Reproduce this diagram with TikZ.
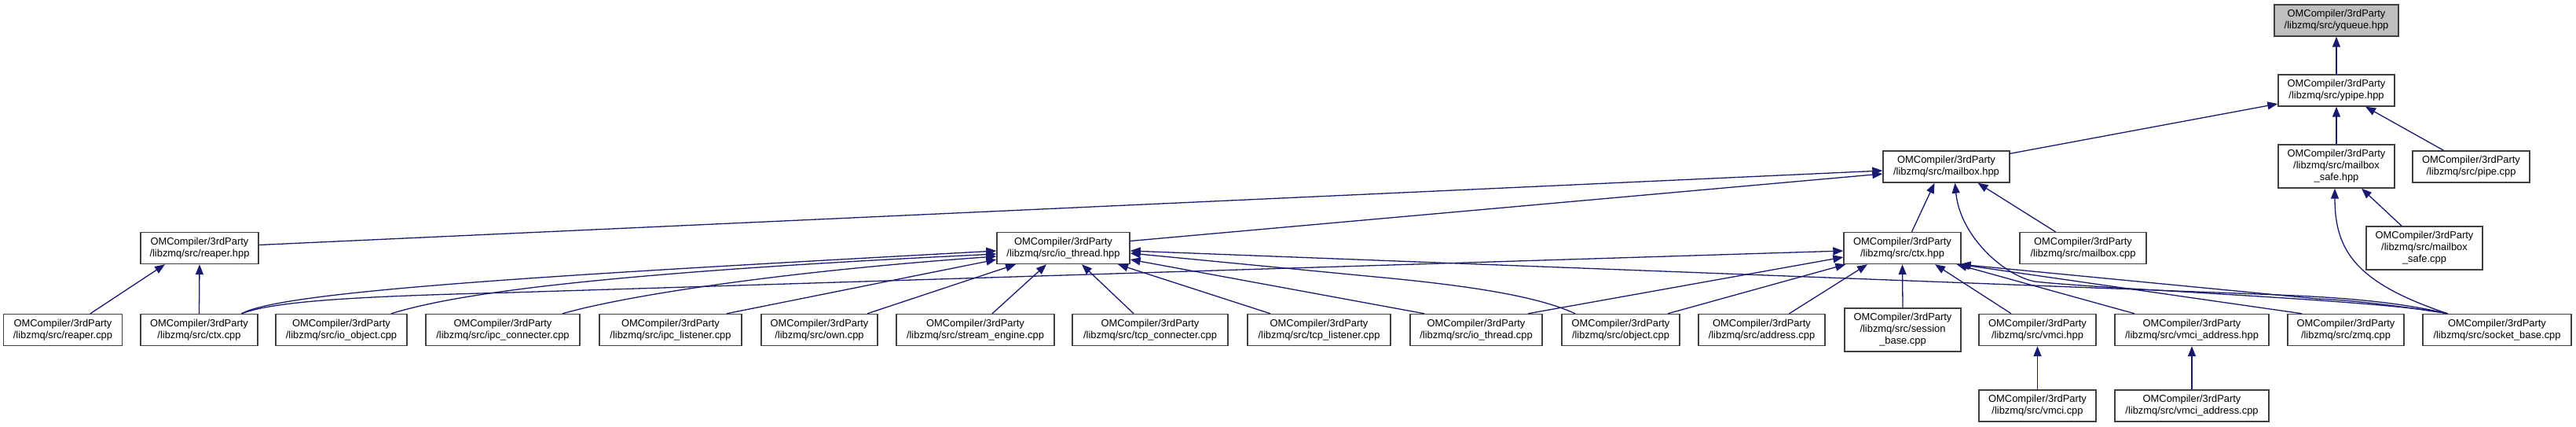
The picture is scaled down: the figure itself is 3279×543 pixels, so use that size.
\documentclass[tikz,border=0pt]{standalone}
\usepackage{fontspec}
\setmainfont{Liberation Sans}
\usetikzlibrary{arrows.meta}
\definecolor{edgeblue}{HTML}{191970}
\definecolor{boxgray}{HTML}{404040}
\definecolor{rootgray}{HTML}{BFBFBF}
\newcommand{\nodefont}{\fontsize{12.9pt}{15pt}\selectfont}
\tikzset{
  box/.style={draw=boxgray, line width=1.4pt, fill=white, inner sep=0pt, align=center, font=\nodefont, minimum height=40pt},
  boxthree/.style={box, minimum height=55pt},
  inc/.style={draw=edgeblue, line width=1.3pt, -{Triangle[length=13pt,width=10pt]}},
}
\begin{document}
\begin{tikzpicture}[x=1pt,y=-1pt]
\useasboundingbox (0,0) rectangle (3279,543);
% rank 0
\node[box, fill=rootgray, minimum width=158pt] (yqueue) at (2974,26) {OMCompiler/3rdParty\\/libzmq/src/yqueue.hpp};
% rank 1
\node[box, minimum width=148pt] (ypipe) at (2974,115) {OMCompiler/3rdParty\\/libzmq/src/ypipe.hpp};
% rank 2
\node[box, minimum width=161pt] (mailboxhpp) at (2477.5,212) {OMCompiler/3rdParty\\/libzmq/src/mailbox.hpp};
\node[boxthree, minimum width=148pt] (mailboxsafehpp) at (2974,211.5) {OMCompiler/3rdParty\\/libzmq/src/mailbox\\\_safe.hpp};
\node[box, minimum width=149pt] (pipecpp) at (3145.5,212) {OMCompiler/3rdParty\\/libzmq/src/pipe.cpp};
% rank 3
\node[box, minimum width=150pt] (reaperhpp) at (254,315.5) {OMCompiler/3rdParty\\/libzmq/src/reaper.hpp};
\node[box, minimum width=169pt] (iothreadhpp) at (1353.5,315.5) {OMCompiler/3rdParty\\/libzmq/src/io\_thread.hpp};
\node[box, minimum width=149pt] (ctxhpp) at (2421.5,315.5) {OMCompiler/3rdParty\\/libzmq/src/ctx.hpp};
\node[box, minimum width=161pt] (mailboxcpp) at (2651.5,315.5) {OMCompiler/3rdParty\\/libzmq/src/mailbox.cpp};
\node[boxthree, minimum width=148pt] (mailboxsafecpp) at (3086,315.5) {OMCompiler/3rdParty\\/libzmq/src/mailbox\\\_safe.cpp};
% rank 4
\node[box, minimum width=151pt] (reapercpp) at (80,419.5) {OMCompiler/3rdParty\\/libzmq/src/reaper.cpp};
\node[box, minimum width=149pt] (ctxcpp) at (253.5,419.5) {OMCompiler/3rdParty\\/libzmq/src/ctx.cpp};
\node[box, minimum width=167pt] (ioobjectcpp) at (434.5,419.5) {OMCompiler/3rdParty\\/libzmq/src/io\_object.cpp};
\node[box, minimum width=196pt] (ipcconnecter) at (640,419.5) {OMCompiler/3rdParty\\/libzmq/src/ipc\_connecter.cpp};
\node[box, minimum width=181pt] (ipclistener) at (853.5,419.5) {OMCompiler/3rdParty\\/libzmq/src/ipc\_listener.cpp};
\node[box, minimum width=148pt] (owncpp) at (1043,419.5) {OMCompiler/3rdParty\\/libzmq/src/own.cpp};
\node[box, minimum width=201pt] (streamengine) at (1241.5,419.5) {OMCompiler/3rdParty\\/libzmq/src/stream\_engine.cpp};
\node[box, minimum width=198pt] (tcpconnecter) at (1464,419.5) {OMCompiler/3rdParty\\/libzmq/src/tcp\_connecter.cpp};
\node[box, minimum width=182pt] (tcplistener) at (1679,419.5) {OMCompiler/3rdParty\\/libzmq/src/tcp\_listener.cpp};
\node[box, minimum width=168pt] (iothreadcpp) at (1879,419.5) {OMCompiler/3rdParty\\/libzmq/src/io\_thread.cpp};
\node[box, minimum width=150pt] (objectcpp) at (2063,419.5) {OMCompiler/3rdParty\\/libzmq/src/object.cpp};
\node[box, minimum width=161pt] (addresscpp) at (2242.5,419.5) {OMCompiler/3rdParty\\/libzmq/src/address.cpp};
\node[boxthree, minimum width=148pt] (sessionbase) at (2422,419.5) {OMCompiler/3rdParty\\/libzmq/src/session\\\_base.cpp};
\node[box, minimum width=149pt] (vmcihpp) at (2593.5,419.5) {OMCompiler/3rdParty\\/libzmq/src/vmci.hpp};
\node[box, minimum width=196pt] (vmciaddresshpp) at (2790,419.5) {OMCompiler/3rdParty\\/libzmq/src/vmci\_address.hpp};
\node[box, minimum width=148pt] (zmqcpp) at (2986,419.5) {OMCompiler/3rdParty\\/libzmq/src/zmq.cpp};
\node[box, minimum width=189pt] (socketbase) at (3178.5,419.5) {OMCompiler/3rdParty\\/libzmq/src/socket\_base.cpp};
% rank 5
\node[box, minimum width=149pt] (vmcicpp) at (2593.5,516) {OMCompiler/3rdParty\\/libzmq/src/vmci.cpp};
\node[box, minimum width=196pt] (vmciaddresscpp) at (2790,516) {OMCompiler/3rdParty\\/libzmq/src/vmci\_address.cpp};

% edges into yqueue / ypipe
\draw[inc] (ypipe.north) -- (yqueue.south);
\draw[inc] ([yshift=-4pt]mailboxhpp.north east) -- ([yshift=-17pt]ypipe.west);
\draw[inc] (mailboxsafehpp.north) -- (ypipe.south);
\draw[inc] ([xshift=-35pt]pipecpp.north) -- ([xshift=37pt]ypipe.south);
% edges into mailbox.hpp
\draw[inc] ([yshift=4pt]reaperhpp.east) -- ([yshift=-5pt]mailboxhpp.west);
\draw[inc] ([yshift=9pt]iothreadhpp.east) -- ([yshift=-9pt]mailboxhpp.west);
\draw[inc] ([xshift=12pt]ctxhpp.north) -- ([xshift=-15pt]mailboxhpp.south);
\draw[inc] ([xshift=-35pt]mailboxcpp.north) -- ([xshift=40pt]mailboxhpp.south);
\draw[inc] ([xshift=-63pt]socketbase.north) .. controls (3040,382) and (2680,368) .. (2590,358) .. controls (2550,350) and (2495,300) .. ([xshift=11pt]mailboxhpp.south);
% edges into mailbox_safe.hpp
\draw[inc] ([xshift=-29pt]mailboxsafecpp.north) -- ([xshift=32pt]mailboxsafehpp.south);
\draw[inc] ([xshift=-63pt]socketbase.north) .. controls (3000,360) and (2972,320) .. ([xshift=-2pt]mailboxsafehpp.south);
% edges into reaper.hpp
\draw[inc] ([xshift=35pt]reapercpp.north) -- ([xshift=-44pt]reaperhpp.south);
\draw[inc] (ctxcpp.north) -- (reaperhpp.south);
% edges into io_thread.hpp
\draw[inc] ([xshift=54pt]ctxcpp.north) .. controls (360,370) and (700,350) .. ([yshift=-3.5pt]iothreadhpp.west);
\draw[inc] ([xshift=63.5pt]ioobjectcpp.north) .. controls (560,380) and (700,350) .. ([yshift=-7.5pt]iothreadhpp.west);
\draw[inc] ([xshift=76pt]ipcconnecter.north) .. controls (800,375) and (1000,345) .. ([yshift=-10.5pt]iothreadhpp.west);
\draw[inc] ([xshift=71.5pt]ipclistener.north) -- ([yshift=-14.5pt]iothreadhpp.west);
\draw[inc] ([xshift=61pt]owncpp.north) -- ([xshift=-60.5pt]iothreadhpp.south);
\draw[inc] ([xshift=21.5pt]streamengine.north) -- ([xshift=-21.5pt]iothreadhpp.south);
\draw[inc] ([xshift=-21pt]tcpconnecter.north) -- ([xshift=23.5pt]iothreadhpp.south);
\draw[inc] ([xshift=-62pt]tcplistener.north) -- ([xshift=69.5pt]iothreadhpp.south);
\draw[inc] ([xshift=-66pt]iothreadcpp.north) -- ([yshift=-14.5pt]iothreadhpp.east);
\draw[inc] ([xshift=-58pt]objectcpp.north) .. controls (1960,378) and (1880,364) .. (1750,352) -- ([yshift=-6.5pt]iothreadhpp.east);
\draw[inc] ([xshift=-63pt]socketbase.north) .. controls (3060,386) and (3000,379) .. (2900,375) -- ([yshift=-3.5pt]iothreadhpp.east);
% edges into ctx.hpp
\draw[inc] ([xshift=54pt]ctxcpp.north) .. controls (350,383) and (450,377) .. (650,372) -- ([yshift=-3.5pt]ctxhpp.west);
\draw[inc] ([xshift=66pt]iothreadcpp.north) -- ([yshift=-11.5pt]ctxhpp.west);
\draw[inc] ([xshift=60pt]objectcpp.north) -- ([xshift=3pt]ctxhpp.south west);
\draw[inc] ([xshift=35pt]addresscpp.north) -- ([xshift=-44.5pt]ctxhpp.south);
\draw[inc] (sessionbase.north) -- (ctxhpp.south);
\draw[inc] ([xshift=-33.5pt]vmcihpp.north) -- ([xshift=41.5pt]ctxhpp.south);
\draw[inc] ([xshift=-73pt]vmciaddresshpp.north) -- ([xshift=-6pt]ctxhpp.south east);
\draw[inc] ([xshift=-56pt]zmqcpp.north) -- ([xshift=-3pt]ctxhpp.south east);
\draw[inc] ([xshift=-63pt]socketbase.north) .. controls (3060,390) and (3000,382) .. (2950,380) -- ([xshift=-1pt]ctxhpp.south east);
% rank 5 edges
\draw[inc] (vmcicpp.north) -- (vmcihpp.south);
\draw[inc] (vmciaddresscpp.north) -- (vmciaddresshpp.south);
\end{tikzpicture}
\end{document}
